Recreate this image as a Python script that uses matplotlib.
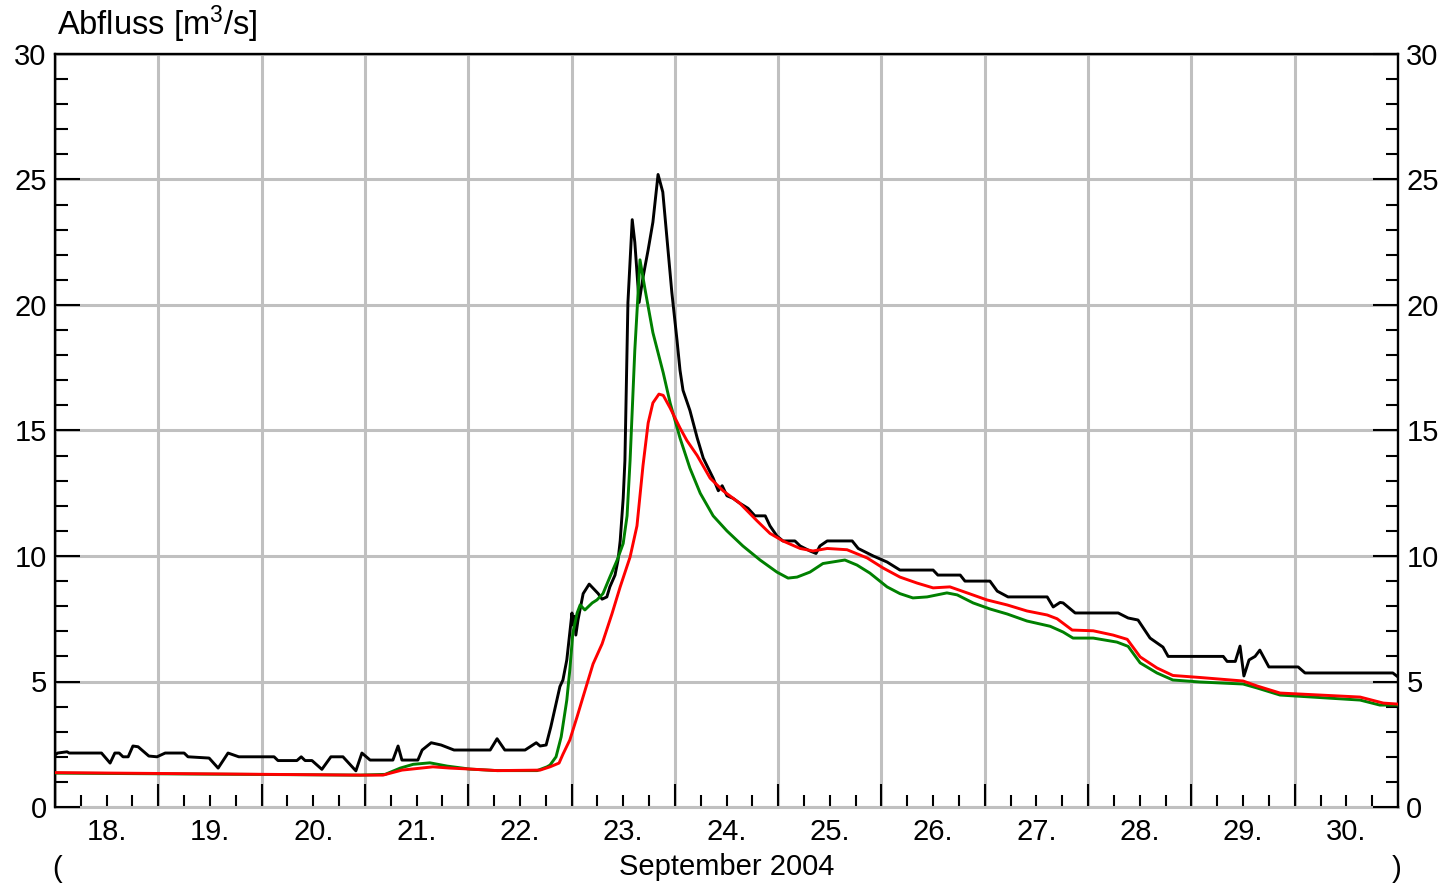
import matplotlib
matplotlib.use("Agg")
import matplotlib.pyplot as plt
import matplotlib.dates as mdates
from matplotlib.ticker import MultipleLocator, FuncFormatter, NullFormatter
import pandas as pd

plt.rcParams['font.family'] = ['Liberation Sans', 'DejaVu Sans']
plt.rcParams['mathtext.fontset'] = 'custom'
plt.rcParams['mathtext.rm'] = 'Liberation Sans'
plt.rcParams['mathtext.it'] = 'Liberation Sans'
plt.rcParams['mathtext.default'] = 'regular'

start = pd.Timestamp('2004-09-18 00:00')

# hours since 18 Sep 2004 00:00 and discharge [m3/s]
black_h = [0, 0.6, 2.8, 3.3, 10.8, 12.8, 13.9, 14.9, 15.8, 17.0, 18.1, 19.3, 21.8, 23.7,
           25.6, 30.0, 30.9, 35.8, 37.9, 40.2, 42.7, 50.9, 51.8, 56.2, 57.2, 58.1, 59.7,
           62.0, 64.1, 66.9, 69.9, 71.3, 73.2, 78.5, 79.7, 80.6, 84.3, 85.3, 87.4, 89.7,
           92.7, 101.1, 102.7, 104.5, 109.2, 111.8, 112.7, 114.1, 115.2, 116.6, 117.3,
           118.0, 118.9, 120.1, 120.3, 120.7, 121.0, 121.5, 122.7, 124.1, 126.2, 127.1,
           128.2, 128.9, 130.1, 130.8, 131.3, 132.0, 132.4, 132.9, 133.1, 134.1, 134.7,
           135.7, 136.6, 137.8, 138.9, 140.1, 141.2, 142.2, 143.3, 144.5, 145.2, 145.9,
           147.5, 149.2, 150.6, 152.9, 154.1, 155.0, 156.1, 157.5, 159.1, 161.0, 162.6,
           165.0, 166.1, 167.7, 169.1, 171.9, 173.1, 175.4, 176.8, 177.7, 179.4, 185.2,
           186.6, 190.1, 193.3, 196.3, 204.0, 205.1, 210.3, 211.4, 217.2, 218.9, 221.4,
           230.5, 231.9, 233.5, 234.2, 237.0, 247.0, 249.3, 251.6, 254.4, 257.4, 258.6,
           271.4, 272.3, 274.2, 275.3, 276.2, 277.4, 278.8, 279.9, 282.0, 288.8, 290.4,
           310.8, 312.0]
black_q = [2.07, 2.15, 2.2, 2.15, 2.15, 1.75, 2.15, 2.15, 2.0, 2.0, 2.43, 2.4, 2.03, 2.0,
           2.15, 2.15, 2.0, 1.95, 1.55, 2.15, 2.0, 2.0, 1.85, 1.85, 2.0, 1.85, 1.85,
           1.5, 2.0, 2.0, 1.44, 2.15, 1.87, 1.87, 2.43, 1.87, 1.87, 2.27, 2.56, 2.47,
           2.27, 2.27, 2.72, 2.27, 2.27, 2.56, 2.43, 2.47, 3.2, 4.26, 4.8,
           5.06, 5.86, 7.73, 7.25, 7.6, 6.85, 7.45, 8.5, 8.88, 8.5, 8.28,
           8.37, 8.77, 9.24, 9.84, 10.6, 12.3, 13.8, 18.2, 20.1, 23.4, 22.5,
           20.1, 21.1, 22.2, 23.3, 25.2, 24.5, 22.6, 20.5, 18.6, 17.4, 16.6,
           15.8, 14.7, 13.9, 13.1, 12.6, 12.8, 12.4, 12.3, 12.1, 11.9, 11.6,
           11.6, 11.2, 10.8, 10.6, 10.6, 10.4, 10.2, 10.1, 10.4, 10.6, 10.6,
           10.3, 10.0, 9.76, 9.44, 9.44, 9.24, 9.24, 9.0, 9.0, 8.6, 8.37,
           8.37, 7.97, 8.15, 8.13, 7.73, 7.73, 7.53, 7.45, 6.73, 6.37, 6.0,
           6.0, 5.8, 5.8, 6.41, 5.22, 5.86, 6.0, 6.25, 5.58, 5.58, 5.34,
           5.34, 5.18]

green_h = [0, 70.9, 76.7, 80.2, 83.2, 87.1, 91.1, 96.4, 102.7, 112.0, 114.3, 115.0, 116.4,
           117.6, 118.9, 119.6, 120.3, 121.3, 122.0, 123.1, 124.8, 125.9, 127.3, 128.9,
           130.6, 132.0, 132.9, 133.6, 134.7, 135.9, 137.1, 138.9, 141.3, 142.9, 145.2,
           147.5, 149.9, 152.9, 156.1, 159.8, 163.8, 167.7, 170.3, 172.4, 175.4, 178.4,
           183.5, 186.3, 189.3, 193.3, 196.3, 199.3, 202.6, 207.2, 209.6, 213.3, 217.2,
           221.2, 225.8, 231.2, 234.2, 236.5, 241.2, 246.7, 249.3, 252.1, 256.0, 259.7,
           266.0, 276.0, 279.3, 284.6, 303.2, 307.8, 312.0]
green_q = [1.35, 1.27, 1.3, 1.55, 1.7, 1.76, 1.63, 1.51, 1.45, 1.45, 1.6, 1.67, 2.0,
           2.8, 4.26, 5.46, 6.93, 7.73, 8.05, 7.85, 8.13, 8.25, 8.5, 9.16,
           9.84, 10.5, 11.6, 13.8, 18.2, 21.8, 20.6, 18.9, 17.3, 16.1, 14.7,
           13.5, 12.5, 11.6, 11.0, 10.4, 9.84, 9.36, 9.12, 9.16, 9.36, 9.7,
           9.84, 9.64, 9.32, 8.77, 8.5, 8.33, 8.37, 8.53, 8.45, 8.13, 7.89,
           7.69, 7.41, 7.2, 6.97, 6.73, 6.73, 6.57, 6.4, 5.74, 5.34, 5.06,
           4.98, 4.9, 4.74, 4.46, 4.26, 4.06, 4.06]

red_h = [0, 70.9, 76.2, 80.6, 87.8, 91.8, 96.6, 102.7, 112.7, 115.0, 117.1, 118.0, 119.6,
         121.3, 122.7, 125.0, 127.1, 129.4, 131.3, 133.6, 135.2, 136.6, 137.8, 138.9,
         140.3, 141.3, 142.9, 145.2, 146.8, 149.2, 152.2, 155.2, 159.1, 163.1, 166.1,
         169.1, 173.1, 176.1, 179.4, 184.0, 187.0, 188.7, 192.4, 196.3, 200.3, 204.0,
         207.9, 211.9, 216.5, 221.2, 225.8, 230.5, 232.8, 236.3, 241.2, 245.8, 249.1,
         252.1, 256.0, 259.7, 266.0, 276.0, 279.3, 284.6, 303.2, 308.6, 312.0]
red_q = [1.37, 1.27, 1.27, 1.47, 1.6, 1.55, 1.51, 1.45, 1.47, 1.6, 1.75, 2.1, 2.67,
         3.6, 4.4, 5.7, 6.5, 7.7, 8.77, 9.96, 11.2, 13.6, 15.3, 16.1,
         16.45, 16.4, 15.9, 15.1, 14.6, 14.0, 13.1, 12.6, 12.1, 11.4, 10.9,
         10.6, 10.3, 10.2, 10.3, 10.25, 10.04, 9.92, 9.52, 9.16, 8.92, 8.73,
         8.77, 8.53, 8.25, 8.05, 7.81, 7.65, 7.5, 7.05, 7.02, 6.85, 6.68,
         5.98, 5.54, 5.24, 5.16, 5.02, 4.82, 4.54, 4.38, 4.14, 4.1]

title = r'Abfluss [m$^3$/s]'
xlabel = 'September 2004'


def to_time(hours):
    return start + pd.to_timedelta(hours, unit='h')


W, H = 1444, 885
fig = plt.figure(figsize=(W / 100, H / 100), dpi=100)
ax = fig.add_axes([55 / W, 1 - 807 / H, (1398 - 55) / W, (807 - 54) / H])

grid_c = '#c0c0c0'
lw = 2.1
ax.plot(to_time(black_h), black_q, color='black', lw=lw, zorder=3)
ax.plot(to_time(green_h), green_q, color='#008000', lw=lw, zorder=4)
ax.plot(to_time(red_h), red_q, color='#ff0000', lw=lw, zorder=5)

ax.set_xlim(start, start + pd.Timedelta(days=13))
ax.set_ylim(0, 30)

ax.xaxis.set_major_locator(mdates.DayLocator())
ax.xaxis.set_major_formatter(NullFormatter())
ax.xaxis.set_minor_locator(mdates.HourLocator(byhour=[6, 12, 18]))


def minor_fmt(v, pos):
    d = mdates.num2date(v)
    return d.strftime('%d.') if d.hour == 12 else ''


ax.xaxis.set_minor_formatter(FuncFormatter(minor_fmt))

ax.yaxis.set_major_locator(MultipleLocator(5))
ax.yaxis.set_minor_locator(MultipleLocator(1))

fs = 21
ax.tick_params(axis='x', which='major', direction='in', length=16.5, width=1.5,
               color='black', top=False, bottom=True)
ax.tick_params(axis='x', which='minor', direction='in', length=8.5, width=1.5,
               color='black', top=False, bottom=True, labelsize=fs, pad=8)
ax.tick_params(axis='y', which='major', direction='in', length=18, width=1.5,
               left=True, right=True, labelleft=True, labelright=True,
               labelsize=fs, pad=6)
ax.tick_params(axis='y', which='minor', direction='in', length=9, width=1.5,
               left=True, right=True)

ax.set_axisbelow(True)
ax.grid(which='major', color=grid_c, lw=2.2)

for s in ['top', 'left', 'right']:
    ax.spines[s].set_color('black')
    ax.spines[s].set_linewidth(1.7)
ax.spines['bottom'].set_color(grid_c)
ax.spines['bottom'].set_linewidth(2.2)
ax.spines['bottom'].set_zorder(0.3)

fig.text(57 / W, 1 - 24 / H, title, fontsize=23.5, ha='left', va='center')
fig.text(726.5 / W, 1 - 867 / H, xlabel, fontsize=fs, ha='center', va='center')
fig.text(57 / W, 1 - 869 / H, '(', fontsize=fs, ha='center', va='center')
fig.text(1397 / W, 1 - 869 / H, ')', fontsize=fs, ha='center', va='center')

fig.savefig('out.png', dpi=100)
